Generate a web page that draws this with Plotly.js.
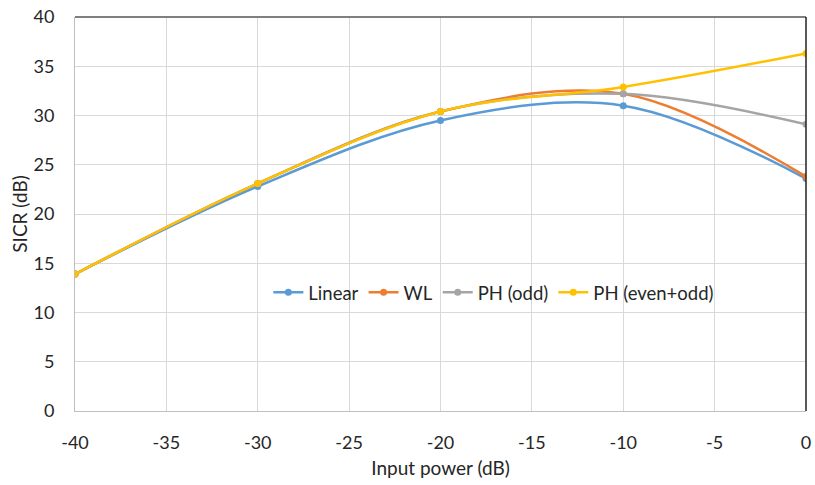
<!DOCTYPE html>
<html>
<head>
<meta charset="utf-8">
<script src="https://cdn.plot.ly/plotly-3.0.1.min.js"></script>
<style>html,body{margin:0;padding:0;background:#fff;}#chart{width:815px;height:485px;}</style>
</head>
<body>
<div id="chart"></div>
<script>
const inputPower = [-40, -30, -20, -10, 0];
const linear = [13.9, 22.8, 29.5, 31.0, 23.6];
const wl = [13.9, 23.1, 30.4, 32.2, 23.8];
const phOdd = [13.9, 23.1, 30.4, 32.2, 29.1];
const phEvenOdd = [13.9, 23.1, 30.4, 32.9, 36.3];
const seriesNames = ["Linear", "WL", "PH (odd)", "PH (even+odd)"];
const seriesColors = ["#5B9BD5", "#ED7D31", "#A5A5A5", "#FFC000"];
const seriesValues = [linear, wl, phOdd, phEvenOdd];
const xTickVals = [-40, -35, -30, -25, -20, -15, -10, -5, 0];
const xTickText = ["-40", "-35", "-30", "-25", "-20", "-15", "-10", "-5", "0"];
const yTickVals = [0, 5, 10, 15, 20, 25, 30, 35, 40];
const yTickText = ["0", "5", "10", "15", "20", "25", "30", "35", "40"];

const traces = seriesValues.map((vals, i) => ({
  x: inputPower,
  y: vals,
  name: seriesNames[i],
  type: "scatter",
  mode: "lines+markers",
  line: {color: seriesColors[i], width: 2.5, shape: "spline", smoothing: 1},
  marker: {color: seriesColors[i], size: 7}
}));

const font = "Lato, 'Open Sans', sans-serif";
const layout = {
  width: 815, height: 485,
  margin: {l: 75, r: 9, t: 17, b: 74},
  paper_bgcolor: "#fff", plot_bgcolor: "#fff",
  font: {family: font, color: "#262626", size: 18},
  showlegend: true,
  legend: {orientation: "h", x: 0.573, xanchor: "center", y: 0.30, yanchor: "middle",
           bgcolor: "rgba(0,0,0,0)", font: {size: 18.5, family: font}, itemwidth: 30, tracegroupgap: 0},
  xaxis: {range: [-40, 0], tickmode: "array", tickvals: xTickVals, ticktext: xTickText,
          showgrid: true, gridcolor: "#d9d9d9", gridwidth: 1,
          showline: true, linecolor: "#bfbfbf", linewidth: 1, zeroline: false,
          ticks: "outside", ticklen: 15, tickcolor: "rgba(0,0,0,0)",
          tickfont: {size: 18},
          title: {text: "Input power (dB)", font: {size: 19}, standoff: 10}},
  yaxis: {range: [0, 40], tickmode: "array", tickvals: yTickVals, ticktext: yTickText,
          showgrid: true, gridcolor: "#d9d9d9", gridwidth: 1,
          showline: true, linecolor: "#bfbfbf", linewidth: 1, zeroline: false,
          ticks: "outside", ticklen: 16, tickcolor: "rgba(0,0,0,0)",
          tickfont: {size: 18},
          title: {text: "SICR (dB)", font: {size: 19}, standoff: 0}},
  shapes: [
    {type: "line", xref: "paper", yref: "paper", x0: 0, x1: 1, y0: 1, y1: 1, line: {color: "#555", width: 1.5}},
    {type: "line", xref: "paper", yref: "paper", x0: 1, x1: 1, y0: 0, y1: 1, line: {color: "#222", width: 1.5}}
  ]
};
Plotly.newPlot("chart", traces, layout, {displayModeBar: false, staticPlot: true});
</script>
</body>
</html>
